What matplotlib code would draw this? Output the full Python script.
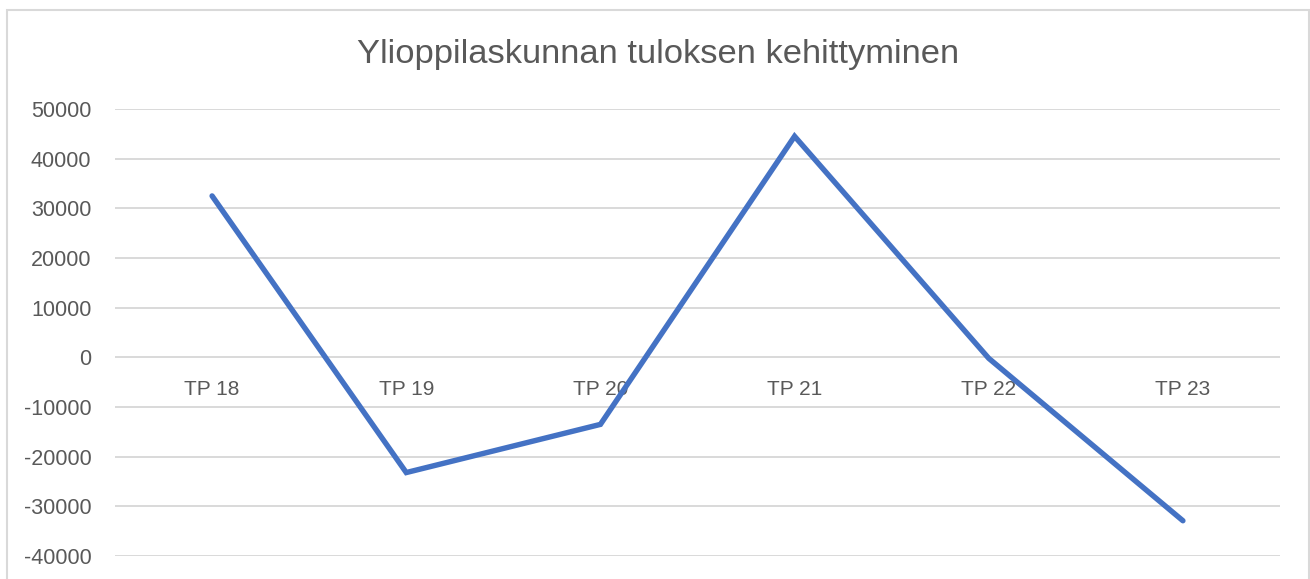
import matplotlib
matplotlib.use("Agg")
import matplotlib.pyplot as plt
from matplotlib.patches import Rectangle

categories = ["TP 18", "TP 19", "TP 20", "TP 21", "TP 22", "TP 23"]
values = [32500, -23200, -13500, 44500, -200, -32900]
yticks = [-40000, -30000, -20000, -10000, 0, 10000, 20000, 30000, 40000, 50000]
title = "Ylioppilaskunnan tuloksen kehittyminen"

plt.rcParams['font.family'] = ['Liberation Sans', 'DejaVu Sans']
W, H = 1310, 579
fig = plt.figure(figsize=(W / 100, H / 100), dpi=100)
fig.patch.set_facecolor('white')

# chart border
fig.add_artist(Rectangle((7 / W, -0.1), (1309 - 7) / W, (H - 10) / H + 0.1,
                         transform=fig.transFigure, fill=False,
                         edgecolor='#D9D9D9', linewidth=1.5))

ax = fig.add_axes([115 / W, 23 / H, (1280 - 115) / W, (556 - 109) / H])
x = list(range(len(categories)))
ax.plot(x, values, color='#4472C4', linewidth=3.9, solid_capstyle='round',
        solid_joinstyle='miter', zorder=3)
ax.set_xlim(-0.5, len(categories) - 0.5)
ax.set_ylim(-40000, 50000)
ax.set_yticks(yticks)
ax.set_yticklabels([str(v) for v in yticks])
ax.set_xticks([])
ax.tick_params(axis='y', length=0, pad=17, labelsize=15.5, labelcolor='#595959')
for s in ax.spines.values():
    s.set_visible(False)
ax.grid(axis='y', color='#D9D9D9', linewidth=1.4, zorder=0)
ax.set_axisbelow(True)

for xi, c in zip(x, categories):
    ax.annotate(c, (xi, 0), xytext=(0, -16), textcoords='offset points',
                ha='center', va='top', fontsize=15, color='#595959', zorder=2)

fig.text(658 / W, 1 - 55 / H, title, ha='center', va='center',
         fontsize=24.8, color='#595959')

fig.savefig('out.png', dpi=100, facecolor='white')
